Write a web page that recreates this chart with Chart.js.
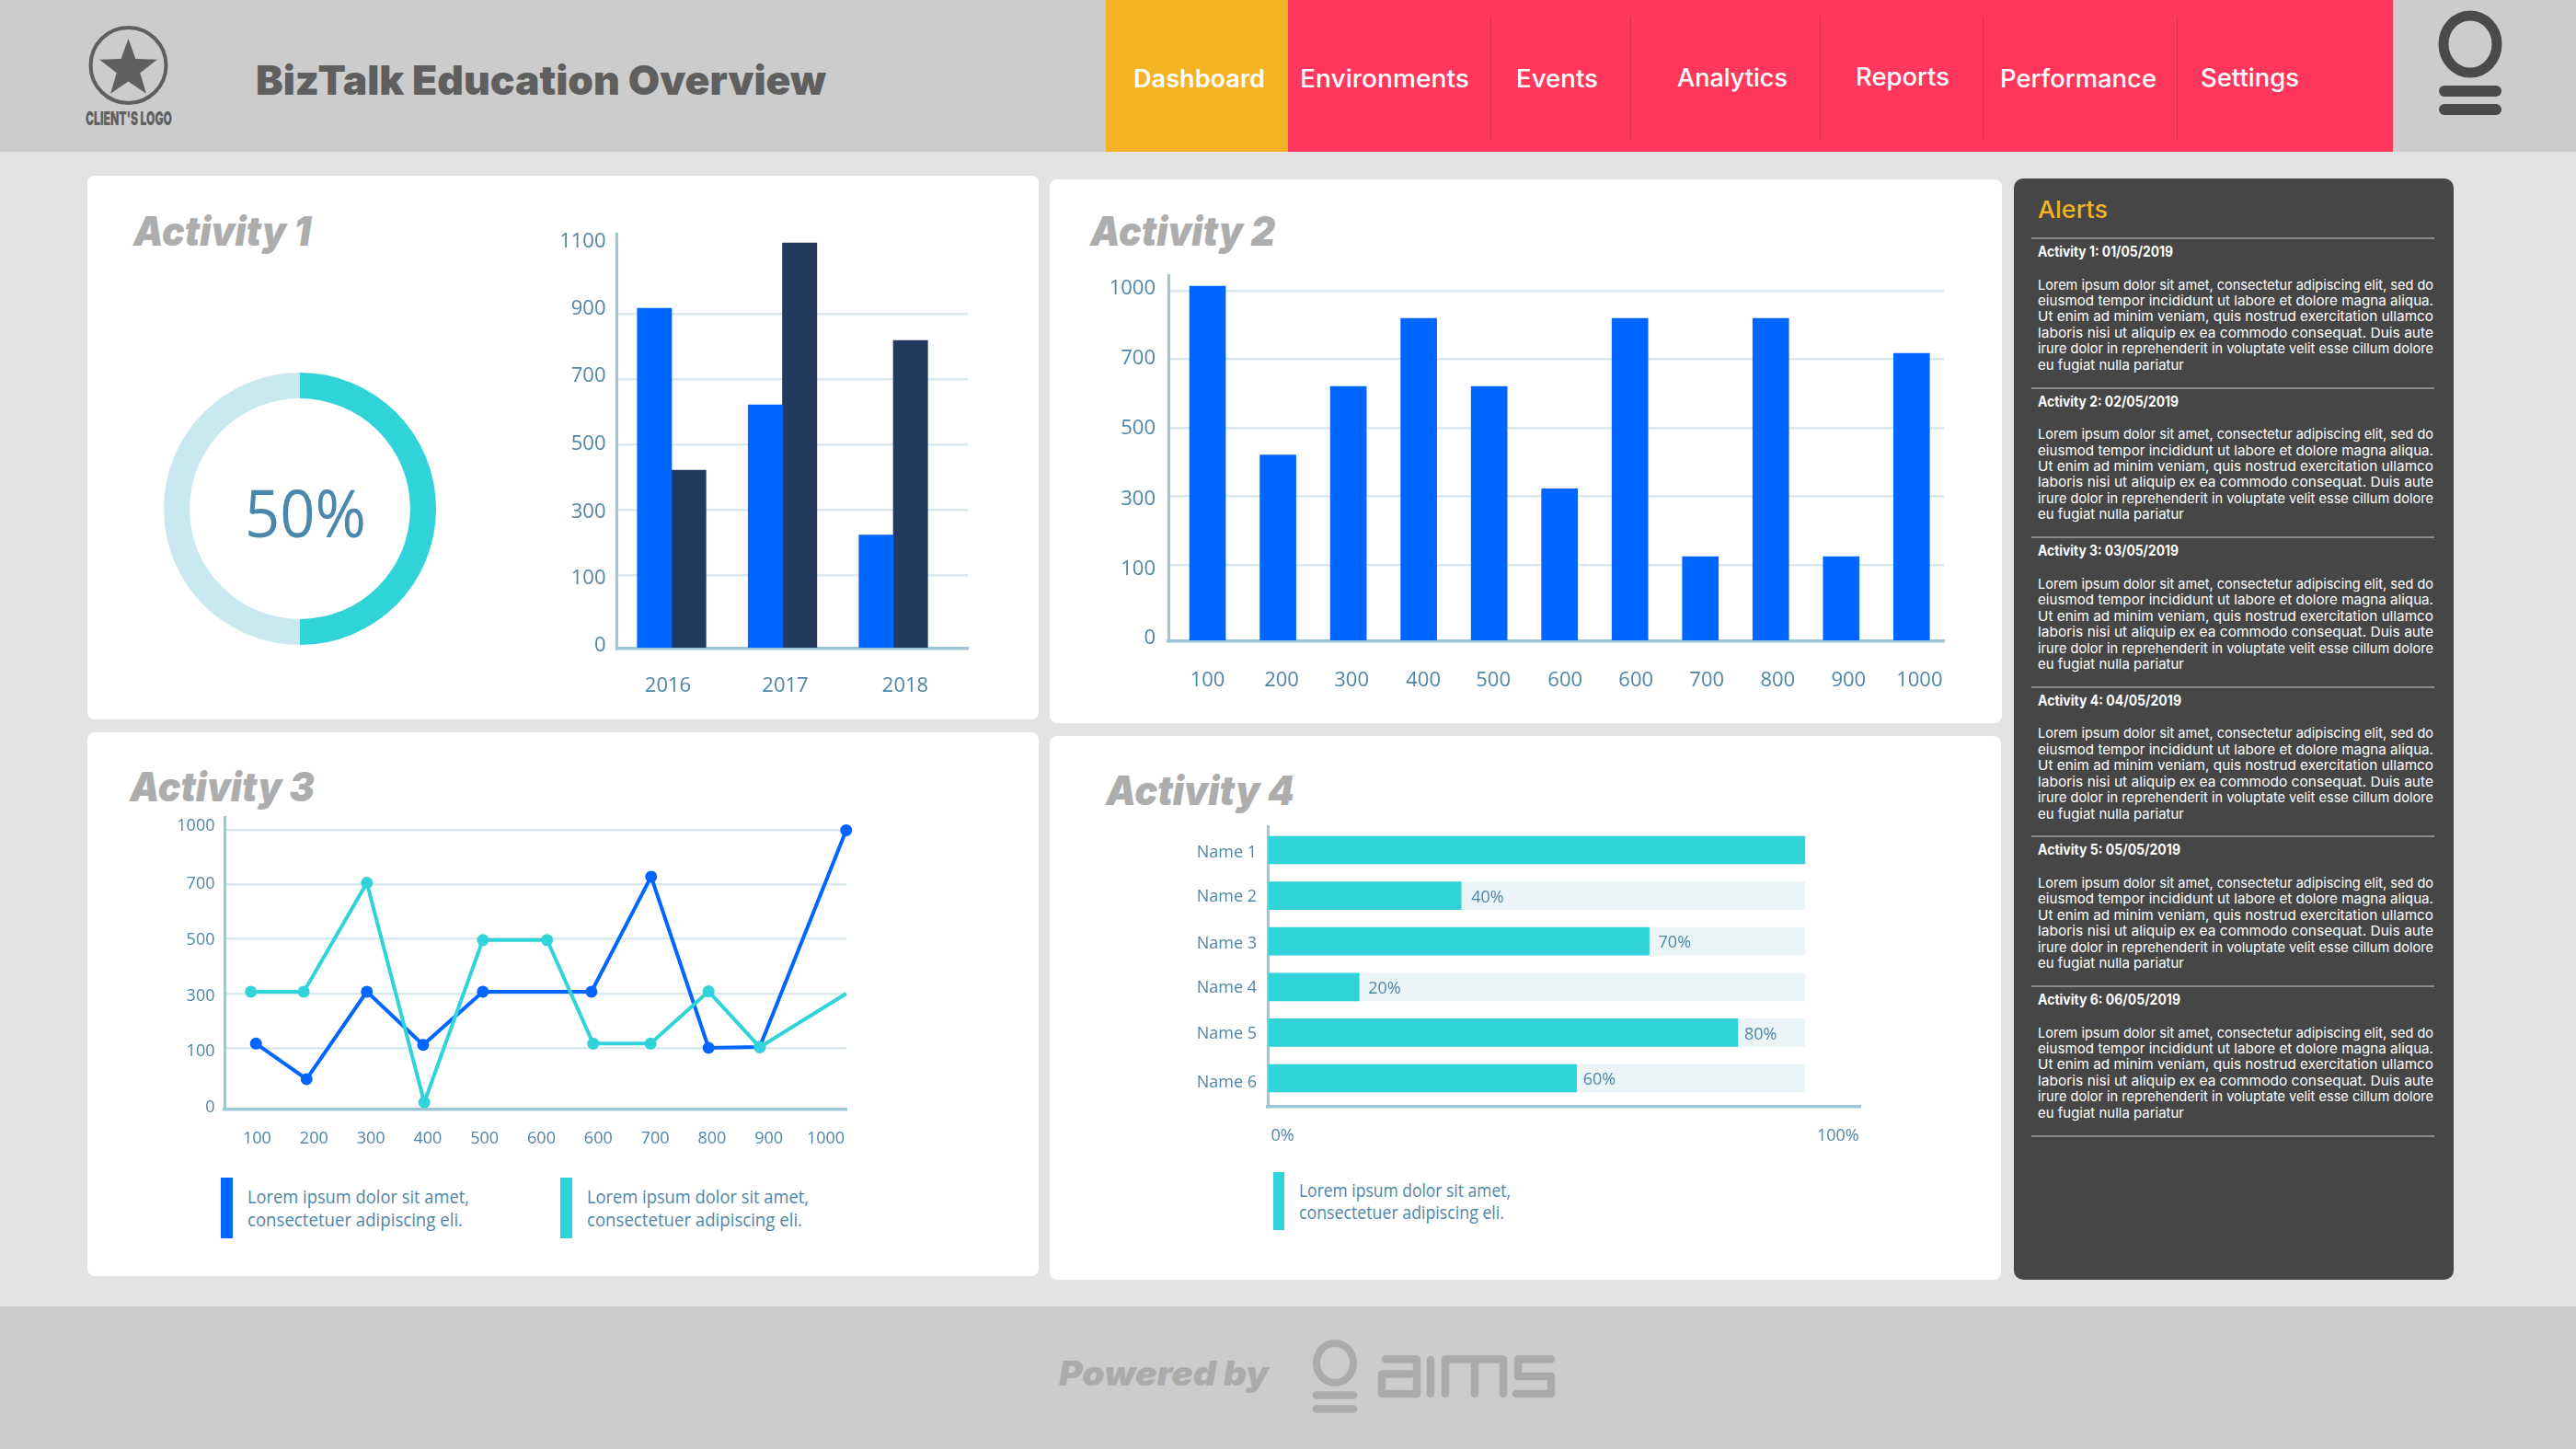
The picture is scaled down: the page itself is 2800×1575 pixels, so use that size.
<!DOCTYPE html>
<html><head><meta charset="utf-8">
<script src="https://cdn.jsdelivr.net/npm/chart.js@4"></script>
<style>
html,body{margin:0;padding:0;background:#e3e3e3}
#page{position:relative;width:2800px;height:1575px;overflow:hidden;background:#e3e3e3;font-family:Inter,sans-serif}
.box{position:absolute}
.t{position:absolute;white-space:nowrap;line-height:1;transform-origin:left center}
canvas{position:absolute;display:block}
svg{position:absolute;left:0;top:0}
</style></head><body><div id="page"></div>
<script>
/* ---------- values ---------- */
const donutValues=[50,50];
const yearLabels=['2016','2017','2018'];
const yearBlue=[917,621,222];
const yearNavy=[421,1117,818];
const ticksA=[0,100,300,500,700,900,1100];
const act2Labels=['100','200','300','400','500','600','600','700','800','900','1000'];
const act2Values=[1020,420,620,878,620,321,878,124,878,124,724];
const ticksB=[0,100,300,500,700,1000];
const act3Labels=['100','200','300','400','500','600','600','700','800','900','1000'];
const act3BlueX=[-0.02,0.87,1.93,2.92,3.97,5.88,6.93,7.94,8.84,10.36];
const act3Blue=[116,49,307,111,307,307,741,100,103,998];
const act3TealX=[-0.11,0.82,1.93,2.94,3.97,5.1,5.91,6.92,7.94,8.84,10.36];
const act3Teal=[307,307,707,11,496,496,116,116,308,103,300];
const act4Names=['Name 1','Name 2','Name 3','Name 4','Name 5','Name 6'];
const act4Fill=[100,36,71,17,87.5,57.5];
const act4Track=[100,100,100,100,100,100];
const act4Text=['','40%','70%','20%','80%','60%'];
const act4Axis=['0%','100%'];
const navItems=['Dashboard','Environments','Events','Analytics','Reports','Performance','Settings'];

/* ---------- palette ---------- */
const BLUE='#0066ff',NAVY='#23395d',TEAL='#30d3d8',PALE='#c9e8ef',TICK='#4f86a6',GRID='#dbe9ef',AXIS='#9dc6d6',TRACK='#ebf4f7';
const page=document.getElementById('page');
function box(x,y,w,h,bg,r){const d=document.createElement('div');d.className='box';d.style.cssText=`left:${x}px;top:${y}px;width:${w}px;height:${h}px;background:${bg};border-radius:${r||0}px`;page.appendChild(d);return d;}
function text(s,x,yc,w,size,weight,color,family,italic){
  const d=document.createElement('div');d.className='t';d.textContent=s;
  d.style.cssText=`left:${x}px;top:${yc}px;font-size:${size}px;font-weight:${weight};color:${color};font-family:${family||'Inter'},sans-serif;font-style:${italic?'italic':'normal'}`;
  page.appendChild(d);
  const k=w?w/d.getBoundingClientRect().width:1;
  d.style.transform=`translateY(-50%) scaleX(${k})`;
  return d;
}
/* ---------- frame ---------- */
box(0,0,2800,165,'#cccccc');
box(0,1420,2800,155,'#cccccc');
box(1202,0,198,165,'#f4b324');
box(1400,0,1201,165,'#ff375c');
[1620,1772,1978,2155,2366].forEach(x=>box(x,18,1,134,'#d92f55'));
box(95,191,1034,591,'#fff',8);box(1141,195,1035,591,'#fff',8);
box(95,796,1034,591,'#fff',8);box(1141,800,1034,591,'#fff',8);
box(2189,194,478,1197,'#464646',10);

const star=[];for(let i=0;i<10;i++){const a=-Math.PI/2+i*Math.PI/5,r=i%2?13.5:33;star.push((139.5+r*Math.cos(a)).toFixed(1)+','+(75+r*Math.sin(a)).toFixed(1));}
const deco=document.createElementNS('http://www.w3.org/2000/svg','svg');
deco.setAttribute('width',2800);deco.setAttribute('height',1575);
deco.innerHTML=`
<ellipse cx="139.5" cy="71" rx="41" ry="41" fill="none" stroke="#5f5f5f" stroke-width="4"/>
<polygon points="${star.join(' ')}" fill="#5f5f5f"/>
<ellipse cx="2685" cy="48" rx="29" ry="31" fill="none" stroke="#4a4a4a" stroke-width="11"/>
<rect x="2651" y="93" width="68" height="12" rx="6" fill="#4a4a4a"/>
<rect x="2651" y="113" width="68" height="12" rx="6" fill="#4a4a4a"/>
<g fill="none" stroke="#ababab" stroke-linecap="round" stroke-linejoin="round">
<ellipse cx="1451" cy="1481.5" rx="20" ry="21.5" stroke-width="8"/>
<g stroke-width="8.5">
<path d="M1431 1516.5H1471M1431 1531.5H1471"/>
<path d="M1506 1477.5H1540V1515H1502V1493.5H1533"/>
<path d="M1555 1478V1515"/>
<path d="M1571 1515V1477.5H1634V1515M1603 1477.5V1515"/>
<path d="M1686 1477.5H1650V1496H1686V1515H1648"/>
</g></g>`;
page.appendChild(deco);

/* ---------- texts ---------- */
text("CLIENT'S LOGO",93,128.5,94,20,900,'#5f5f5f');
text('BizTalk Education Overview',278,87,620,44,900,'#5f5f5f');
const navX=[1232,1413,1648,1823,2017,2174,2392],navW=[143,184,89,120,102,170,107],navY=[85,85,85,84,83,85,84];
navItems.forEach((s,i)=>text(s,navX[i],navY[i],navW[i],27,i?500:600,'#fff'));
[['Activity 1',145,251,193],['Activity 2',1185,251,201],['Activity 3',141,855,201],['Activity 4',1202,859,205]]
  .forEach(a=>text(a[0],a[1],a[2],a[3],44,900,'#adadad','Inter',true));
text('Powered by',1151,1492,228,37,900,'#ababab','Inter',true);
text('50%',266,556,132,72,400,'#4a87ab','Open Sans');

box(2208,258,438,2,'#8a8a8a');
text('Alerts',2215,228,76,26,500,'#f4b324');
const alertHeads=['Activity 1: 01/05/2019','Activity 2: 02/05/2019','Activity 3: 03/05/2019','Activity 4: 04/05/2019','Activity 5: 05/05/2019','Activity 6: 06/05/2019'];
const headW=[147,153,153,156,155,155];
const lorem=['Lorem ipsum dolor sit amet, consectetur adipiscing elit, sed do','eiusmod tempor incididunt ut labore et dolore magna aliqua.','Ut enim ad minim veniam, quis nostrud exercitation ullamco','laboris nisi ut aliquip ex ea commodo consequat. Duis aute','irure dolor in reprehenderit in voluptate velit esse cillum dolore','eu fugiat nulla pariatur'];
alertHeads.forEach((h,b)=>{
  const top=258+b*162.6;
  text(h,2215,top+16,headW[b],15.5,700,'#fff');
  lorem.forEach((l,i)=>text(l,2215,top+50.5+i*17.45,i<5?430:159,15,400,'#fff'));
  box(2208,Math.round(top+162.6),438,2,'#8a8a8a');
});
/* legends */
box(240,1280,13,65.5,BLUE);box(609,1280,13,65.5,TEAL);box(1384,1274,12,63,TEAL);
[[269,1300.5,241,'Lorem ipsum dolor sit amet,'],[269,1325.5,234,'consectetuer adipiscing eli.'],[638,1300.5,241,'Lorem ipsum dolor sit amet,'],[638,1325.5,234,'consectetuer adipiscing eli.'],
 [1412,1293.5,230,'Lorem ipsum dolor sit amet,'],[1412,1318,223,'consectetuer adipiscing eli.']]
 .forEach(a=>text(a[3],a[0],a[1],a[2],20,400,TICK,'Open Sans'));

/* ---------- Chart.js helpers ---------- */
const WARPS={
 a:{v:[0,100,300,500,700,900,1100,1145],p:[0,80,151,222,293,364,435,451]},
 b:{v:[0,100,300,500,700,1000,1068],p:[0,83,158,232,307,381,398]},
 c:{v:[0,100,300,500,700,1000,1071],p:[0,66.6,125.6,185,244.6,303.6,317.6]}
};
function interp(xs,ys,x){
  let i=0;while(i<xs.length-2&&x>xs[i+1])i++;
  return ys[i]+(x-xs[i])*(ys[i+1]-ys[i])/(xs[i+1]-xs[i]);
}
class WarpScale extends Chart.LinearScale{
  static id='warp';static defaults={};
  getPixelForValue(v){const w=WARPS[this.options.warp];return this.getPixelForDecimal(interp(w.v,w.p,v)/w.p[w.p.length-1]);}
  getValueForPixel(px){const w=WARPS[this.options.warp];return interp(w.p,w.v,this.getDecimalForPixel(px)*w.p[w.p.length-1]);}
}
Chart.register(WarpScale);
function setTicks(s,vals,dx,dy){
  s.ticks=vals.map(v=>({value:v}));
  if(!s._nudged){
    s._nudged=true;
    const orig=Chart.Scale.prototype._computeLabelItems;
    s._computeLabelItems=function(ca){const items=orig.call(this,ca);items.forEach((it,i)=>{it.options.translation[0]+=(dx&&dx[i])||0;it.options.translation[1]+=(dy&&dy[i])||0;});return items;};
  }
}
const font=size=>({family:"'Open Sans'",size,weight:'400'});
function canvas(x,y,w,h){const c=document.createElement('canvas');c.width=w;c.height=h;c.style.cssText=`left:${x}px;top:${y}px;width:${w}px;height:${h}px`;page.appendChild(c);return c;}
const base={responsive:false,animation:false,devicePixelRatio:1,events:[],plugins:{legend:{display:false},tooltip:{enabled:false}}};
function yAxis(warp,max,ticks,dy,width,pad,size,hideTop){
  return {type:'warp',warp,min:0,max,position:'left',
    afterFit:s=>{s.width=width;},afterBuildTicks:s=>setTicks(s,ticks,null,dy),
    ticks:{font:font(size),color:TICK,padding:pad,autoSkip:false,callback:v=>String(v)},
    grid:{drawTicks:false,lineWidth:2.5,color:c=>(c.tick&&(c.tick.value===0||c.tick.value===hideTop))?'rgba(0,0,0,0)':GRID},
    border:{color:AXIS,width:3}};
}
function xAxis(labels,min,max,height,pad,size,dx){
  return {type:'linear',min,max,offset:false,position:'bottom',
    afterFit:s=>{s.height=height;},afterBuildTicks:s=>setTicks(s,labels.map((_,i)=>i),dx,null),
    ticks:{font:font(size),color:TICK,padding:pad,autoSkip:false,maxRotation:0,callback:(v,i)=>labels[i]},
    grid:{offset:false,drawOnChartArea:false,drawTicks:false},
    border:{color:AXIS,width:3.5}};
}
const zip=(xs,ys)=>ys.map((y,i)=>({x:xs[i],y}));
const idx=a=>a.map((_,i)=>i);

/* Activity 1 donut */
new Chart(canvas(178,405,296,296),{type:'doughnut',
  data:{labels:['Done','Left'],datasets:[{data:donutValues,backgroundColor:[TEAL,PALE],borderWidth:0}]},
  options:{...base,cutout:'81%',layout:{padding:0}}});

/* Activity 1 bars: plot 670.5..1052 x 254..705 */
new Chart(canvas(570,200,559,582),{type:'bar',
  data:{datasets:[
    {data:zip(idx(yearLabels),yearBlue),backgroundColor:BLUE,barThickness:37.3},
    {data:zip(idx(yearLabels),yearNavy),backgroundColor:NAVY,barThickness:37.3}]},
  options:{...base,layout:{padding:{left:0,top:54,right:77,bottom:0}},
    scales:{
      x:xAxis(yearLabels,-0.494,2.672,77,27.5,22,[-4,3,13]),
      y:yAxis('a',1145,ticksA,[-3.5,3.5,2.5,-0.5,-3.5,-5.5,-7.5],100.5,12,22,1100)}}});

/* Activity 2 bars: plot 1270..2113 x 299..697 */
new Chart(canvas(1170,245,1006,541),{type:'bar',
  data:{datasets:[{data:zip(idx(act2Labels),act2Values),backgroundColor:BLUE,barThickness:39}]},
  options:{...base,layout:{padding:{left:0,top:54,right:63,bottom:0}},
    scales:{
      x:xAxis(act2Labels,-0.556,10.46,89,29.5,22,[0,4,3.5,5,4.5,6,6.5,7,7.5,8,8.5]),
      y:yAxis('b',1068,ticksB,[-3.5,4.5,3.5,0.5,-0.5,-2.5],100,14,22)}}});

/* Activity 3 lines: plot 244..920 x 888..1205.6 */
new Chart(canvas(130,840,999,450),{type:'line',
  data:{datasets:[
    {data:zip(act3TealX,act3Teal),borderColor:TEAL,backgroundColor:TEAL,borderWidth:4,tension:0,clip:false,pointBorderWidth:0,
     pointRadius:act3Teal.map((_,i)=>i===act3Teal.length-1?0:6.5)},
    {data:zip(act3BlueX,act3Blue),borderColor:BLUE,backgroundColor:BLUE,borderWidth:4,tension:0,clip:false,pointBorderWidth:0,pointRadius:6.5}]},
  options:{...base,layout:{padding:{left:0,top:48,right:209,bottom:0}},
    scales:{
      x:xAxis(act3Labels,-0.574,10.364,84.4,21,18),
      y:yAxis('c',1071,ticksB,[-2,3.5,2.5,1.5,-0.5,-4.5],114,10.5,18)}}});

/* Activity 4 bars: plot 1378..2022 x 898..1203 */
const act4TextGap=[0,11,10,10,7,7];
const pctLabels={id:'pctLabels',afterDatasetsDraw(chart){
  const m=chart.getDatasetMeta(0),g=chart.ctx;
  g.save();g.font="400 18px 'Open Sans'";g.fillStyle=TICK;g.textBaseline='middle';g.textAlign='left';
  m.data.forEach((b,i)=>{if(act4Text[i])g.fillText(act4Text[i],b.x+act4TextGap[i],b.y+2);});
  g.restore();}};
new Chart(canvas(1250,850,925,550),{type:'bar',plugins:[pctLabels],
  data:{datasets:[
    {data:act4Fill.map((x,i)=>({x,y:i})),backgroundColor:TEAL,barThickness:30,grouped:false},
    {data:act4Track.map((x,i)=>({x,y:i})),backgroundColor:TRACK,barThickness:30,grouped:false}]},
  options:{...base,indexAxis:'y',layout:{padding:{left:0,top:48,right:153,bottom:0}},
    scales:{
      x:{type:'linear',min:0,max:110.3,offset:false,position:'bottom',
        afterFit:s=>{s.height=197;},afterBuildTicks:s=>setTicks(s,[0,100],[16,36],null),
        ticks:{font:font(18),color:TICK,padding:21.5,autoSkip:false,maxRotation:0,callback:(v,i)=>act4Axis[i]},
        grid:{drawOnChartArea:false,drawTicks:false},border:{color:AXIS,width:3.5}},
      y:{type:'linear',reverse:true,min:-0.524,max:5.625,offset:false,position:'left',
        afterFit:s=>{s.width=128;},afterBuildTicks:s=>setTicks(s,idx(act4Names),null,[2.5,1.5,2.5,1.5,1.5,4.5]),
        ticks:{font:font(18),color:TICK,padding:12,autoSkip:false,callback:(v,i)=>act4Names[i]},
        grid:{offset:false,drawOnChartArea:false,drawTicks:false},border:{color:AXIS,width:3}}}}});
</script></body></html>
